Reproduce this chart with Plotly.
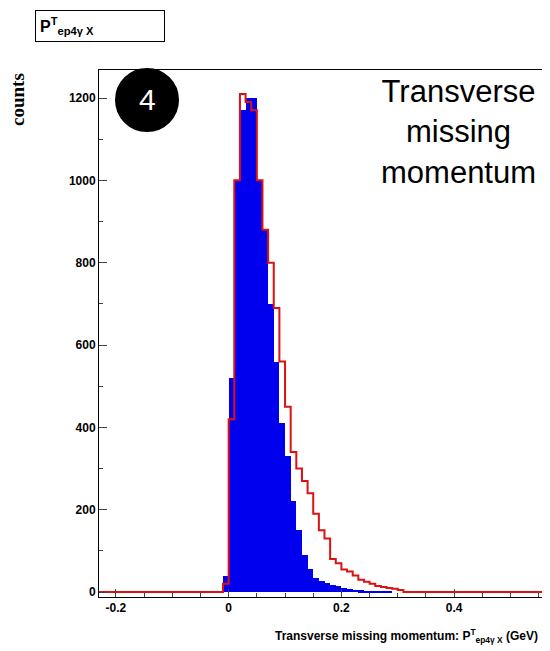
import plotly.graph_objects as go

bin_width = 0.01
bin_centers = [-0.005, 0.005, 0.015, 0.025, 0.035, 0.045, 0.055, 0.065, 0.075, 0.085,
               0.095, 0.105, 0.115, 0.125, 0.135, 0.145, 0.155, 0.165, 0.175, 0.185,
               0.195, 0.205, 0.215, 0.225, 0.235, 0.245, 0.255, 0.265, 0.275, 0.285,
               0.295, 0.305]
blue_counts = [40, 520, 1000, 1170, 1200, 1200, 1000, 880, 700, 560,
               410, 330, 220, 150, 90, 55, 35, 28, 22, 18,
               14, 10, 8, 6, 4, 3, 2, 2, 1, 1, 0, 0]
red_counts = [20, 420, 1000, 1210, 1190, 1170, 1000, 880, 800, 690,
              560, 450, 340, 300, 270, 240, 190, 150, 130, 80,
              70, 55, 50, 40, 30, 25, 20, 15, 12, 10, 8, 5]
x_ticks = [-0.2, 0, 0.2, 0.4]
y_ticks = [0, 200, 400, 600, 800, 1000, 1200]

# step outline for red histogram, flat at zero outside the filled bins
edges = [-0.3] + [c - bin_width / 2 for c in bin_centers] + [bin_centers[-1] + bin_width / 2, 0.7]
red_y = [0] + red_counts + [0, 0]

OFF = 8
L, R, T, B = 99, 550, 70, 597


def px(x):
    return (x - L) / (R - L)


def py(y):
    return (B - y) / (B - T)


fig = go.Figure()
fig.add_trace(go.Bar(x=bin_centers, y=blue_counts, width=bin_width,
                     marker=dict(color='#0000ee', line=dict(width=0))))
fig.add_trace(go.Scatter(x=edges, y=red_y, mode='lines', line_shape='hv',
                         line=dict(color='#dd1111', width=2)))

tickfont = dict(size=12, family='Liberation Sans, Arial', weight='bold')
fig.update_layout(
    width=550 - OFF, height=651 - OFF, showlegend=False,
    paper_bgcolor='white', plot_bgcolor='white',
    margin=dict(l=L - OFF, r=0, t=T - OFF, b=651 - B),
    font=dict(family='Liberation Sans, Arial', color='black'),
    xaxis=dict(range=[-0.23, 0.57], tickvals=x_ticks, ticktext=['-0.2', '0', '0.2', '0.4'],
               ticks='inside', ticklen=8, showgrid=False, zeroline=False,
               showline=True, linecolor='black', mirror=True, tickfont=tickfont,
               minor=dict(ticks='inside', ticklen=4, dtick=0.05)),
    yaxis=dict(range=[-12, 1268], tickvals=y_ticks, ticks='inside', ticklen=8,
               showgrid=False, zeroline=False, showline=True, linecolor='black', mirror=True,
               tickfont=tickfont, minor=dict(ticks='inside', ticklen=4, dtick=100)),
    bargap=0,
)

fig.add_shape(type='circle', xref='paper', yref='paper',
              x0=px(116), x1=px(178), y0=py(131), y1=py(69),
              fillcolor='black', line=dict(color='black'))
fig.add_annotation(x=px(147), y=py(100), xref='paper', yref='paper',
                   xanchor='center', yanchor='middle',
                   text='4', showarrow=False, font=dict(size=30, color='white'))
fig.add_annotation(x=px(538), y=py(72), xref='paper', yref='paper',
                   xanchor='right', yanchor='top', align='center', showarrow=False,
                   text='Transverse<br>missing<br>momentum',
                   font=dict(size=31, family='Liberation Sans, Arial'))
fig.add_annotation(x=px(18), y=py(100), xref='paper', yref='paper',
                   xanchor='center', yanchor='middle',
                   text='<b>counts</b>', textangle=-90, showarrow=False,
                   font=dict(size=19, family='Liberation Serif, Times New Roman'))
fig.add_annotation(x=px(540), y=py(636), xref='paper', yref='paper',
                   xanchor='right', yanchor='middle', showarrow=False,
                   text='<b>Transverse missing momentum: P<sup>T</sup><sub>ep4γ X</sub> (GeV)</b>',
                   font=dict(size=12))
fig.add_annotation(x=px(35), y=py(10), xref='paper', yref='paper',
                   xanchor='left', yanchor='top', showarrow=False,
                   text='<b>P<sup>T</sup><sub>ep4γ X</sub></b>',
                   font=dict(size=16), bordercolor='black', borderwidth=1,
                   borderpad=4, bgcolor='white', width=120, align='left')

fig.write_html('out.html')
